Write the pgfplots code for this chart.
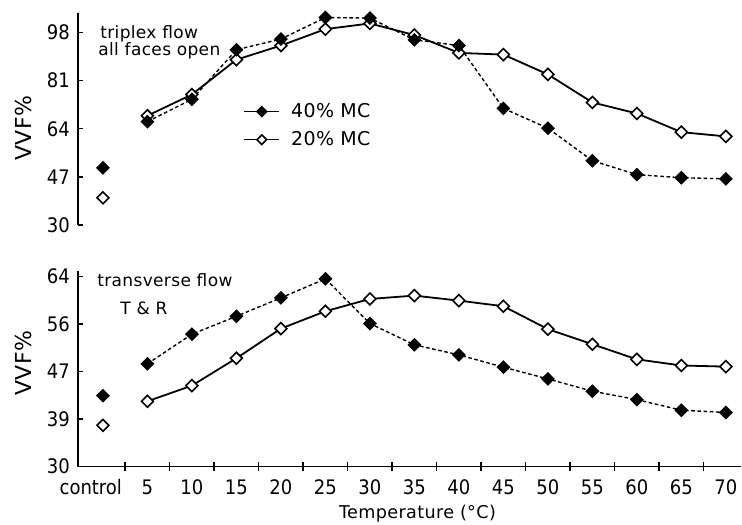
\documentclass[border=0pt]{standalone}
\usepackage{fontspec}
\setmainfont{DejaVu Sans Condensed}
\newfontfamily\lab{DejaVu Sans}[LetterSpace=2.0]
\usepackage{pgfplots}
\pgfplotsset{compat=1.18}
\pgfplotsset{
  s40/.style={black, line width=0.7pt, dash pattern=on 1.8pt off 1.3pt,
    mark=square*, mark size=2.2pt,
    mark options={solid, rotate=45, fill=black, line width=0.5pt}},
  s20/.style={black, line width=0.9pt,
    mark=square*, mark size=2.1pt,
    mark options={solid, rotate=45, fill=white, line width=0.8pt}},
  base/.style={scale only axis, width=331.5pt, xmin=-0.56, xmax=14.34,
    clip=false, axis line style={line width=0.7pt},
    tick style={black, line width=0.7pt}, tick align=inside,
    major tick length=2.5pt, minor tick length=4.5pt,
    tick label style={font=\fontsize{10}{12}\selectfont},
    yticklabel style={xshift=-0.6pt},
    axis y line*=left},
}
\begin{document}
\begin{tikzpicture}
\useasboundingbox (0,0) rectangle (371pt,262pt);
% ---------- top panel ----------
\begin{axis}[base, at={(39pt,149.5pt)}, anchor=south west,
  height=106.15pt, ymin=30, ymax=105,
  axis x line=none,
  ytick={30,47,64,81,98}, yticklabels={30,47,64,81,98},
  legend style={draw=none, fill=none, at={(0.249,0.468)}, anchor=west,
    inner sep=0pt, row sep=3.5pt, font=\lab\fontsize{9.5}{11}\selectfont,
    nodes={inner sep=1pt},
    /tikz/every odd column/.append style={column sep=4.5pt}},
  legend cell align=left,
  legend image code/.code={\draw[mark repeat=2,mark phase=2,#1] plot coordinates {(0pt,0pt) (8.75pt,0pt) (17.5pt,0pt)};},
]
\addlegendimage{black, line width=0.8pt, mark=square*, mark size=1.7pt, mark options={rotate=45, fill=black}}
\addlegendentry{40\% MC}
\addlegendimage{black, line width=0.8pt, mark=square*, mark size=1.7pt, mark options={rotate=45, fill=white}}
\addlegendentry{20\% MC}
\addplot[s20, forget plot] coordinates {(1,68.6) (2,76.1) (3,88.4) (4,93.4) (5,99.2) (6,101.2) (7,97.1) (8,90.8) (9,90.2) (10,83.2) (11,73.3) (12,69.4) (13,62.8) (14,61.3)};
\addplot[s40, forget plot] coordinates {(1,66.5) (2,74.4) (3,91.9) (4,95.7) (5,103.3) (6,103.1) (7,95.4) (8,93.4) (9,71.2) (10,64.2) (11,52.7) (12,47.8) (13,46.7) (14,46.3)};
\addplot[s40, only marks, forget plot] coordinates {(0,50.2)};
\addplot[s20, only marks, forget plot] coordinates {(0,39.6)};
\end{axis}
% ---------- bottom panel ----------
\begin{axis}[base, at={(39pt,28.65pt)}, anchor=south west,
  height=97.85pt, ymin=30, ymax=65,
  axis x line*=bottom,
  xtick={0,...,14},
  xticklabels={\makebox[19pt][r]{control},5,10,15,20,25,30,35,40,45,50,55,60,65,70},
  xticklabel style={yshift=-3pt},
  minor xtick={0.5,1.5,...,13.5},
  every minor tick/.append style={yshift=-2.25pt},
  every major x tick/.style={draw=none},
  ytick={30,38.5,47,55.5,64}, yticklabels={30,39,47,56,64},
]
\addplot[s20, forget plot] coordinates {(1,41.7) (2,44.5) (3,49.4) (4,54.7) (5,57.8) (6,60.0) (7,60.6) (8,59.7) (9,58.7) (10,54.6) (11,51.9) (12,49.2) (13,48.1) (14,47.9)};
\addplot[s40, forget plot] coordinates {(1,48.4) (2,53.7) (3,56.9) (4,60.2) (5,63.6) (6,55.6) (7,51.8) (8,50.0) (9,47.8) (10,45.7) (11,43.5) (12,42.0) (13,40.1) (14,39.7)};
\addplot[s40, only marks, forget plot] coordinates {(0,42.7)};
\addplot[s20, only marks, forget plot] coordinates {(0,37.4)};
\end{axis}
% ---------- texts ----------
\node[anchor=base west, inner sep=0pt, font=\lab\fontsize{8.5}{10}\selectfont] at (50pt,242.5pt) {triplex flow};
\node[anchor=base west, inner sep=0pt, font=\lab\fontsize{8.5}{10}\selectfont] at (49pt,234.2pt) {all faces open};
\node[anchor=base west, inner sep=0pt, font=\lab\fontsize{8.5}{10}\selectfont] at (48.5pt,118.65pt) {transverse flow};
\node[anchor=base west, inner sep=0pt, font=\lab\fontsize{8.5}{10}\selectfont] at (60pt,104.5pt) {T \& R};
\node[rotate=90, inner sep=0pt, font=\lab\fontsize{11}{13}\selectfont] at (11.5pt,198pt) {VVF\%};
\node[rotate=90, inner sep=0pt, font=\lab\fontsize{11}{13}\selectfont] at (11.5pt,80.5pt) {VVF\%};
\node[anchor=base, inner sep=0pt, font=\lab\fontsize{8.8}{10}\selectfont] at (208.75pt,3pt) {Temperature (°C)};
\end{tikzpicture}
\end{document}
